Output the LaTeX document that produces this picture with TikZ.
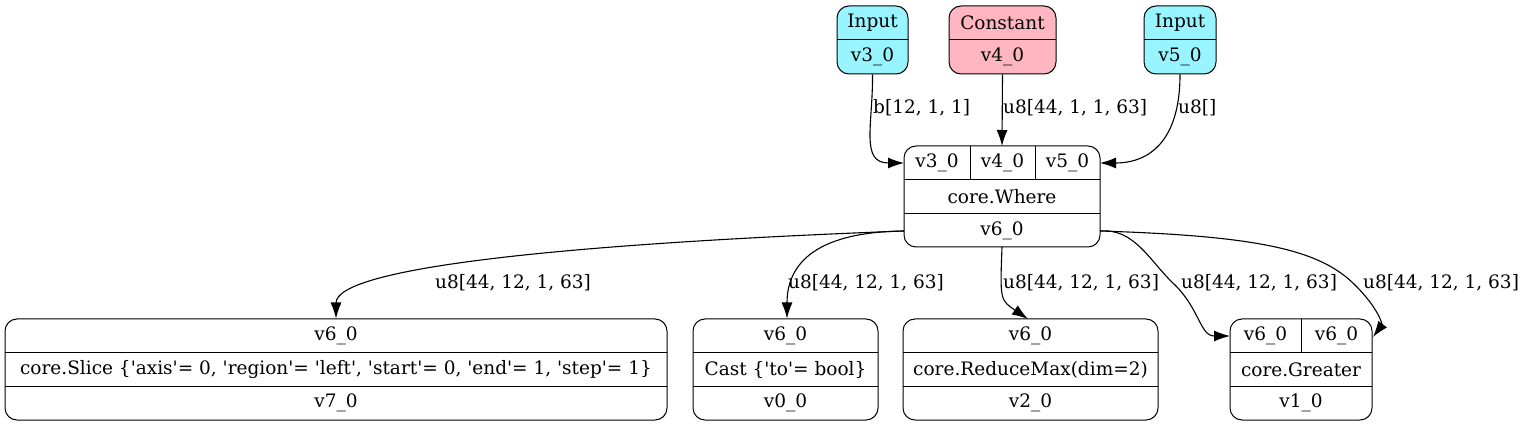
\documentclass[tikz,border=0pt]{standalone}
\usepackage{fontspec}
\setmainfont{DejaVu Serif}
\usetikzlibrary{arrows.meta}
\definecolor{incol}{HTML}{98F5FF}
\definecolor{constcol}{HTML}{FFB6C1}
\newcommand\sq{\XeTeXglyph\XeTeXcharglyph"27\relax}
\tikzset{
  rec/.style={draw=black, line width=1pt, rounded corners=12pt, inner sep=0pt},
  sep/.style={draw=black, line width=1pt},
  txt/.style={font=\fontsize{18.5}{22}\selectfont, inner sep=0pt},
  lbl/.style={font=\fontsize{18.5}{22}\selectfont, inner sep=0pt, anchor=west},
  edge/.style={draw=black, line width=1.1pt, -{Latex[length=16pt,width=11pt]}},
}
\begin{document}
\begin{tikzpicture}[x=1pt,y=-1pt]
\useasboundingbox (0,0) rectangle (1530,427);
% ---- top nodes
\node[rec, fill=incol, minimum width=71pt, minimum height=68pt] (in3) at (872.5,40) {};
\draw[sep] (837,40) -- (908,40);
\node[txt] (in3a) at (872.5,23) {Input};
\node[txt] (in3b) at (872.5,57) {v3\_0};
\node[rec, fill=constcol, minimum width=107pt, minimum height=68pt] (c4) at (1002.5,40) {};
\draw[sep] (949,40) -- (1056,40);
\node[txt] (c4a) at (1002.5,23) {Constant};
\node[txt] (c4b) at (1002.5,57) {v4\_0};
\node[rec, fill=incol, minimum width=72pt, minimum height=68pt] (in5) at (1180,40) {};
\draw[sep] (1144,40) -- (1216,40);
\node[txt] (in5a) at (1180,23) {Input};
\node[txt] (in5b) at (1180,57) {v5\_0};
% ---- where
\node[rec, minimum width=196pt, minimum height=101pt] (wh) at (1002,196.5) {};
\draw[sep] (904,179.5) -- (1100,179.5) (904,213.5) -- (1100,213.5)
  (970,146) -- (970,179.5) (1035,146) -- (1035,179.5);
\node[txt] (whp1) at (937,162.5) {v3\_0};
\node[txt] (whp2) at (1002.5,162.5) {v4\_0};
\node[txt] (whp3) at (1067.5,162.5) {v5\_0};
\node[txt] (whb) at (1002,196.5) {core.Where};
\node[txt] (who) at (1002,230.5) {v6\_0};
\coordinate (whL) at (904,163);
\coordinate (whR) at (1100,163);
\coordinate (whT) at (1002,146);
\coordinate (wo1) at (904,231);
\coordinate (wo2) at (1100,231);
\coordinate (wo3) at (1002,247);
% ---- bottom nodes
\node[rec, minimum width=662pt, minimum height=101pt] (sl) at (336,369.5) {};
\draw[sep] (5,352.5) -- (667,352.5) (5,386.5) -- (667,386.5);
\node[txt] (sla) at (336,336) {v6\_0};
\node[txt] (slb) at (336,369.5) {core.Slice \{\sq axis\sq= 0, \sq region\sq= \sq left\sq, \sq start\sq= 0, \sq end\sq= 1, \sq step\sq= 1\}};
\node[txt] (slc) at (336,403) {v7\_0};
\node[rec, minimum width=185pt, minimum height=101pt] (ca) at (785.5,369.5) {};
\draw[sep] (693,352.5) -- (878,352.5) (693,386.5) -- (878,386.5);
\node[txt] (caa) at (785.5,336) {v6\_0};
\node[txt] (cab) at (785.5,369.5) {Cast \{\sq to\sq= bool\}};
\node[txt] (cac) at (785.5,403) {v0\_0};
\node[rec, minimum width=255pt, minimum height=101pt] (rm) at (1030.5,369.5) {};
\draw[sep] (903,352.5) -- (1158,352.5) (903,386.5) -- (1158,386.5);
\node[txt] (rma) at (1030.5,336) {v6\_0};
\node[txt] (rmb) at (1030.5,369.5) {core.ReduceMax(dim=2)};
\node[txt] (rmc) at (1030.5,403) {v2\_0};
\node[rec, minimum width=142pt, minimum height=101pt] (gr) at (1301,369.5) {};
\draw[sep] (1230,352.5) -- (1372,352.5) (1230,386.5) -- (1372,386.5) (1301,319) -- (1301,352.5);
\node[txt] (gra) at (1265.5,336) {v6\_0};
\node[txt] (grb) at (1336.5,336) {v6\_0};
\node[txt] (grc) at (1301,369.5) {core.Greater};
\node[txt] (grd) at (1301,403) {v1\_0};
\coordinate (grL) at (1230,336);
\coordinate (grR) at (1373,337);
% ---- edges
\draw[edge] (in3.south) .. controls (873,125) and (860,163) .. (whL);
\draw[edge] (c4.south) -- (whT);
\draw[edge] (in5.south) .. controls (1180,140) and (1150,163) .. (whR);
\draw[edge] (wo1) .. controls (560,244) and (336,268) .. (sl.north);
\draw[edge] (wo1) .. controls (810,232) and (787,268) .. (ca.north -| 787,0);
\draw[edge] (wo3) .. controls (1000,300) and (1000,300) .. (1028,319);
\draw[edge] (wo2) .. controls (1135,228) and (1150,262) .. (1175,285) .. controls (1200,310) and (1200,336) .. (grL);
\draw[edge] (wo2) .. controls (1260,236) and (1320,250) .. (1355,285) .. controls (1380,310) and (1382,325) .. (grR);
% ---- labels
\node[lbl] (l1) at (873,108) {b[12, 1, 1]};
\node[lbl] (l2) at (1003,108) {u8[44, 1, 1, 63]};
\node[lbl] (l3) at (1178,108) {u8[]};
\node[lbl] (l4) at (435,283) {u8[44, 12, 1, 63]};
\node[lbl] (l5) at (788,283) {u8[44, 12, 1, 63]};
\node[lbl] (l6) at (1003,283) {u8[44, 12, 1, 63]};
\node[lbl] (l7) at (1181,283) {u8[44, 12, 1, 63]};
\node[lbl] (l8) at (1363,283) {u8[44, 12, 1, 63]};
\end{tikzpicture}
\end{document}
